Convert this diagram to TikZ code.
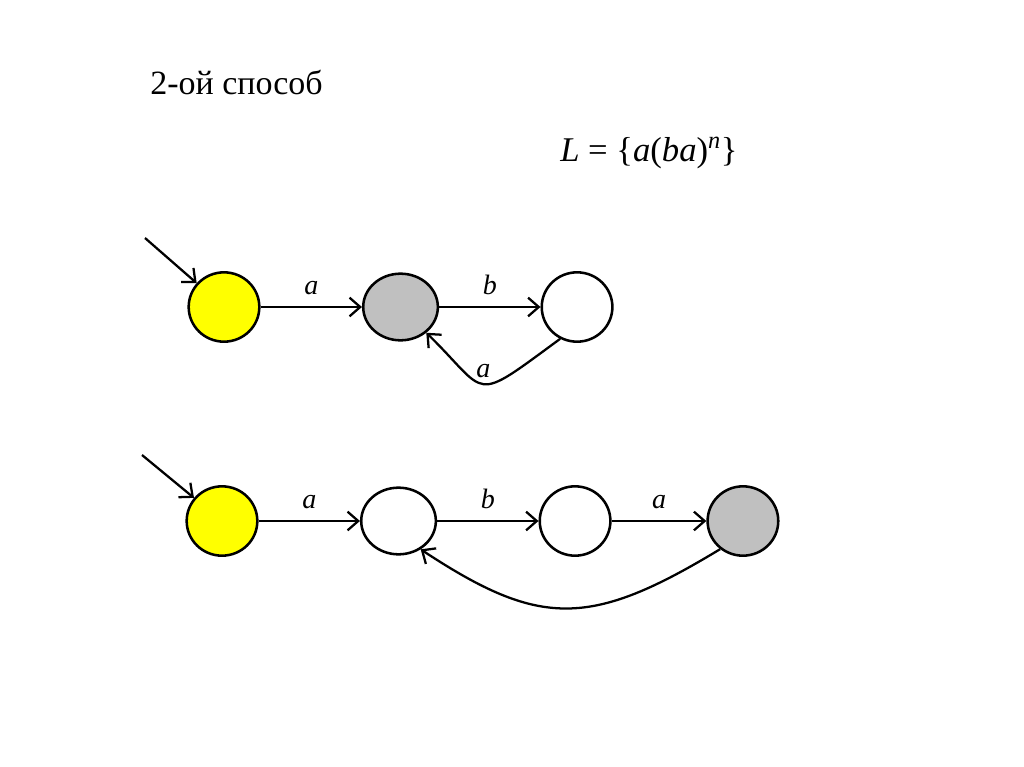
\documentclass[tikz,border=0pt]{standalone}
\usepackage{fontspec}
\setmainfont{Liberation Serif}
\usetikzlibrary{arrows.meta,positioning,shapes.geometric}
\definecolor{stateyellow}{RGB}{255,255,0}
\definecolor{stategray}{RGB}{192,192,192}

\begin{document}
\begin{tikzpicture}[x=0.75pt, y=-0.75pt,
    node distance=76pt,
    st/.style={ellipse, draw=black, line width=1.9pt, fill=white,
               minimum width=53pt, minimum height=52pt, inner sep=0pt},
    wide/.style={minimum width=56pt, minimum height=50pt},
    arr/.style={-{Straight Barb[length=8pt,width=14pt]}, line width=1.7pt},
    lbl/.style={font=\fontsize{21}{25}\selectfont\itshape, above=8pt, inner sep=0pt}]
\useasboundingbox (0,0) rectangle (1024,767);
\node[font=\fontsize{25.5}{30}\selectfont, anchor=base west, inner sep=0pt] (title) at (150,94) {2-ой способ};
\node[font=\fontsize{26}{30}\selectfont, anchor=base west, inner sep=0pt] (lang) at (560,161)
    {\textit{L} = \{\textit{a}(\textit{ba})\textsuperscript{\textit{n}}\}};
% first automaton
\node[st, fill=stateyellow] (y1) at (224,307) {};
\node[st, wide, fill=stategray, right=of y1] (g1) {};
\node[st, right=of g1] (w1) {};
\coordinate (s1) at (145,238);
\draw[arr] (s1) -- (y1);
\draw[arr] (y1) -- node[lbl] {a} (g1);
\draw[arr] (g1) -- node[lbl] {b} (w1);
\draw[arr] (w1.-118) .. controls (470,405) and (490,395) .. node[lbl, pos=0.5, above=4pt] {a} (g1.-45);
% second automaton
\node[st, fill=stateyellow] (y2) at (222,521) {};
\node[st, wide, right=of y2] (w2) {};
\node[st, right=of w2] (w3) {};
\node[st, fill=stategray, right=71pt of w3] (g2) {};
\coordinate (s2) at (142,455);
\draw[arr] (s2) -- (y2);
\draw[arr] (y2) -- node[lbl] {a} (w2);
\draw[arr] (w2) -- node[lbl] {b} (w3);
\draw[arr] (w3) -- node[lbl] {a} (g2);
\draw[arr] (g2.-129) .. controls (590,628) and (540,628) .. (w2.-52);
\end{tikzpicture}
\end{document}
